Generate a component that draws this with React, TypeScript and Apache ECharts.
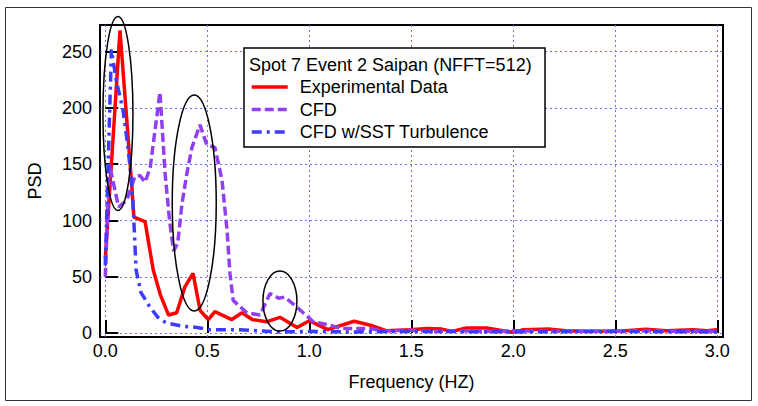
import React, { useEffect, useRef } from "react";
import * as echarts from "echarts";

const FONT = "'Liberation Sans', Arial, sans-serif";

const xTicks = [0, 0.5, 1.0, 1.5, 2.0, 2.5, 3.0];
const yTicks = [0, 50, 100, 150, 200, 250];

const legendTitle = "Spot 7 Event 2 Saipan (NFFT=512)";
const seriesNames = ["Experimental Data", "CFD", "CFD w/SST Turbulence"];
const xAxisName = "Frequency (HZ)";
const yAxisName = "PSD";

// Experimental Data (red)
const expFreq = [0, 0.072, 0.13, 0.14, 0.195, 0.235, 0.27, 0.31, 0.35, 0.39, 0.43, 0.465, 0.505, 0.537, 0.62, 0.67, 0.72, 0.79, 0.856, 0.94, 1.0, 1.09, 1.22, 1.3, 1.38, 1.49, 1.58, 1.65, 1.7, 1.77, 1.87, 1.95, 2.0, 2.05, 2.18, 2.26, 2.35, 2.45, 2.55, 2.65, 2.75, 2.88, 2.95, 3.0];
const expPsd = [66, 269, 130, 103, 99, 56, 34, 16, 18, 41, 53, 20, 12, 19, 12, 18, 12, 10, 14, 5, 11, 3, 10.5, 7, 2, 3, 4, 3.5, 1.5, 4.5, 4.5, 2, 0.8, 3, 3.5, 2, 1.5, 1.5, 2, 3.5, 2, 3, 2, 3];

// CFD (purple, dashed)
const cfdFreq = [0, 0.02, 0.065, 0.105, 0.145, 0.17, 0.195, 0.22, 0.268, 0.293, 0.315, 0.335, 0.355, 0.376, 0.4, 0.425, 0.464, 0.498, 0.537, 0.572, 0.597, 0.611, 0.627, 0.694, 0.758, 0.807, 0.82, 0.85, 0.88, 0.92, 0.97, 1.02, 1.1, 1.16, 1.3, 1.36, 1.5, 1.6, 1.75, 1.9, 2.0, 2.2, 2.4, 2.6, 2.8, 3.0];
const cfdPsd = [50, 150, 112, 118, 139, 140, 134, 147, 214, 142, 100, 73, 80, 115, 142, 165, 185, 167, 165, 136, 91, 53, 29, 18, 16, 35, 34, 31, 32, 26, 18, 10, 7, 4, 4, 2, 2.5, 1.5, 2, 1.5, 2, 1.5, 1.5, 2, 1.5, 1.5];

// CFD w/SST Turbulence (blue, dash-dot)
const sstFreq = [0, 0.03, 0.053, 0.087, 0.111, 0.126, 0.136, 0.151, 0.175, 0.219, 0.258, 0.298, 0.381, 0.45, 0.51, 0.66, 0.75, 0.85, 1.0, 1.2, 1.5, 2.0, 2.5, 3.0];
const sstPsd = [60, 252, 225, 198, 165, 139, 115, 56, 36, 23, 14, 9, 6, 5, 3, 3, 2, 1, 1.5, 1, 1.5, 1, 1.5, 1];

const pairs = (xs: number[], ys: number[]) => xs.map((x, i) => [x, ys[i]]);

export default function App() {
  const ref = useRef<HTMLDivElement>(null);

  useEffect(() => {
    if (!ref.current) return;
    const chart = echarts.init(ref.current, undefined, { renderer: "svg" });

    const option: any = {
      animation: false,
      backgroundColor: "#ffffff",
      textStyle: { fontFamily: FONT },
      grid: {
        left: 100,
        right: 35,
        top: 25,
        bottom: 69,
        show: true,
        borderColor: "#000",
        borderWidth: 2,
        backgroundColor: "transparent",
      },
      xAxis: {
        type: "value",
        min: -0.026,
        max: 3.028,
        name: xAxisName,
        nameLocation: "middle",
        nameGap: 36,
        nameTextStyle: { fontSize: 18, color: "#000", fontFamily: FONT },
        axisLine: { show: false },
        axisTick: {
          show: true,
          inside: true,
          length: 13,
          customValues: xTicks,
          lineStyle: { color: "#000", width: 2 },
        },
        axisLabel: {
          customValues: xTicks,
          formatter: (v: number) => v.toFixed(1),
          fontSize: 18,
          color: "#000",
          margin: 5,
          fontFamily: FONT,
        },
        splitLine: {
          show: true,
          lineStyle: { color: "#6f6fff", type: [2, 3], width: 1 },
        },
      },
      yAxis: {
        type: "value",
        min: -3.5,
        max: 273.7,
        name: yAxisName,
        nameLocation: "middle",
        nameGap: 56,
        nameTextStyle: { fontSize: 18, color: "#000", fontFamily: FONT },
        axisLine: { show: false },
        axisTick: {
          show: true,
          inside: true,
          length: 13,
          customValues: yTicks,
          lineStyle: { color: "#000", width: 2 },
        },
        axisLabel: {
          customValues: yTicks,
          fontSize: 18,
          color: "#000",
          margin: 8,
          fontFamily: FONT,
        },
        splitLine: {
          show: true,
          lineStyle: { color: "#6f6fff", type: [2, 3], width: 1 },
        },
      },
      legend: {
        orient: "vertical",
        left: 250,
        top: 77,
        padding: 0,
        itemWidth: 36,
        itemHeight: 14,
        itemGap: 2.5,
        z: 6,
        data: seriesNames,
        itemStyle: { opacity: 0 },
        lineStyle: { width: 3.5 },
        textStyle: {
          fontSize: 18,
          color: "#000",
          fontFamily: FONT,
          lineHeight: 20,
          padding: [0, 0, 0, 7],
        },
      },
      series: [
        {
          name: seriesNames[0],
          type: "line",
          symbol: "none",
          showSymbol: false,
          data: pairs(expFreq, expPsd),
          lineStyle: { color: "#ff0000", width: 3.5 },
          itemStyle: { color: "#ff0000" },
          z: 2,
        },
        {
          name: seriesNames[1],
          type: "line",
          symbol: "none",
          showSymbol: false,
          data: pairs(cfdFreq, cfdPsd),
          lineStyle: { color: "#9040ee", width: 3.5, type: [9, 4] },
          itemStyle: { color: "#9040ee" },
          z: 3,
        },
        {
          name: seriesNames[2],
          type: "line",
          symbol: "none",
          showSymbol: false,
          data: pairs(sstFreq, sstPsd),
          lineStyle: { color: "#3c3cff", width: 3.5, type: [10, 5, 3, 5] },
          itemStyle: { color: "#3c3cff" },
          z: 4,
        },
      ],
    };

    chart.setOption(option);

    // annotation ellipses anchored in data coordinates (centre), radii in px
    const annotations = [
      { f: 0.062, v: 195, rx: 15, ry: 97 },
      { f: 0.436, v: 115.5, rx: 22, ry: 108 },
      { f: 0.856, v: 28.4, rx: 17, ry: 30 },
    ];
    const ellipses = annotations.map((a) => {
      const p = chart.convertToPixel({ gridIndex: 0 }, [a.f, a.v]) as number[];
      return {
        type: "ellipse",
        silent: true,
        z: 20,
        shape: { cx: p[0], cy: p[1], rx: a.rx, ry: a.ry },
        style: { fill: "none", stroke: "#000", lineWidth: 1.5 },
      };
    });

    chart.setOption({
      graphic: [
        {
          type: "rect",
          silent: true,
          z: 1,
          shape: { x: 5.5, y: 7.5, width: 746, height: 393 },
          style: { fill: "none", stroke: "#333", lineWidth: 1 },
        },
        {
          type: "rect",
          silent: true,
          z: 5,
          shape: { x: 244, y: 48, width: 301, height: 99 },
          style: { fill: "#fff", stroke: "#000", lineWidth: 1.5 },
        },
        {
          type: "text",
          silent: true,
          z: 7,
          x: 249,
          y: 65,
          style: {
            text: legendTitle,
            fontSize: 18,
            fontFamily: FONT,
            fill: "#000",
            verticalAlign: "middle",
          },
        },
        ...ellipses,
      ],
    });

    return () => {
      chart.dispose();
    };
  }, []);

  return (
    <div
      ref={ref}
      style={{ position: "fixed", left: 0, top: 0, width: 758, height: 406 }}
    />
  );
}
